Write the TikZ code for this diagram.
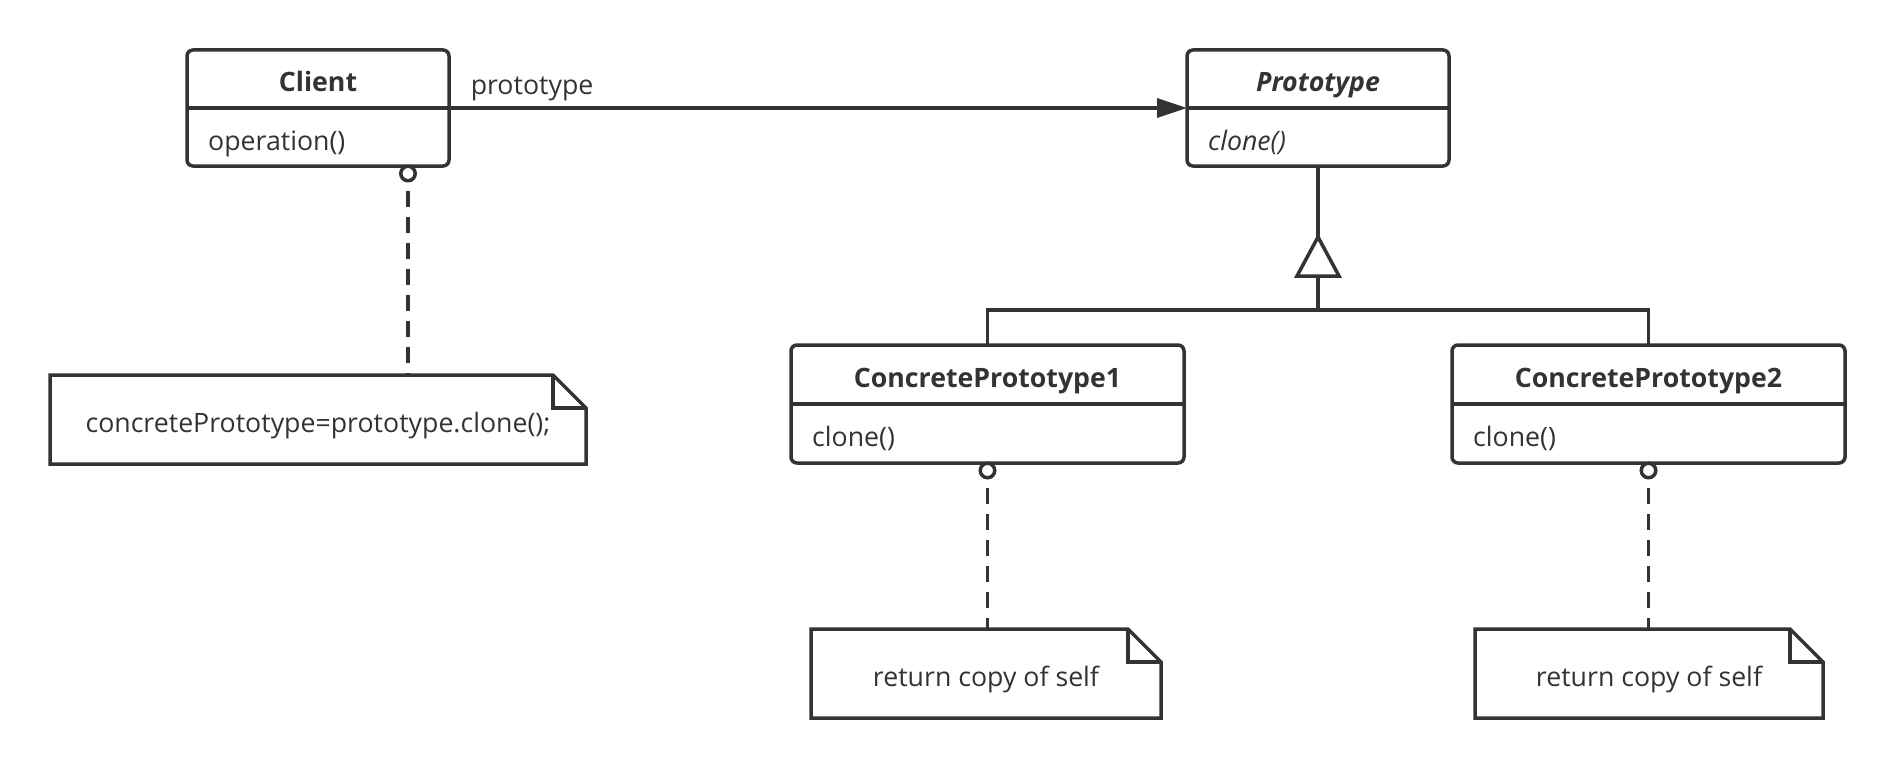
\documentclass[tikz,border=0pt]{standalone}
\usepackage{fontspec}
\setmainfont{Open Sans}
\usetikzlibrary{arrows.meta,calc}
\definecolor{ink}{HTML}{333333}
\newcommand\dfont{\fontsize{26.7}{32}\selectfont}
\newcommand\drawnote[1]{%
  \draw[link, line join=miter] (#1.north west) -- ([xshift=-33pt]#1.north east)
    -- ([yshift=-33pt]#1.north east) -- (#1.south east) -- (#1.south west) -- cycle;
  \draw[link] ([xshift=-33pt]#1.north east) |- ([yshift=-33pt]#1.north east);}
\begin{document}
\begin{tikzpicture}[x=1pt,y=-1pt,
  every node/.style={text=ink, font=\dfont},
  link/.style={draw=ink, line width=3.5pt},
  classbox/.style={draw=ink, line width=3.5pt, rounded corners=6pt, inner sep=0pt, outer sep=0pt},
  txt/.style={inner sep=0pt, text height=30pt, text depth=4pt},
  member/.style={txt, anchor=west, xshift=21pt},
  notebox/.style={txt, outer sep=0pt},
  lolli/.style={circle, draw=ink, line width=3.5pt, fill=white, inner sep=0pt, outer sep=0pt, minimum size=14.5pt},
  dashlink/.style={draw=ink, line width=3.5pt, dash pattern=on 16pt off 10pt, dash phase=16pt}
]
\useasboundingbox (0,0) rectangle (1896,768);

% classes
\node[classbox, minimum width=262pt, minimum height=116pt] (client) at (318,108) {};
\node[classbox, minimum width=262pt, minimum height=116pt] (proto) at (1318,108) {};
\node[classbox, minimum width=393pt, minimum height=118pt] (cpa) at (987.5,404) {};
\node[classbox, minimum width=393pt, minimum height=118pt] (cpb) at (1648.5,404) {};

\foreach \c in {client,proto,cpa,cpb}{\draw[link] (\c.west) -- (\c.east);}

\node[txt, font=\dfont\bfseries] (clientT) at ($(client.north)!0.5!(client.center)$) {Client};
\node[member] (clientM) at ($(client.west)!0.5!(client.south west)$) {operation()};
\node[txt, font=\dfont\bfseries\itshape] (protoT) at ($(proto.north)!0.5!(proto.center)$) {Prototype};
\node[member, font=\dfont\itshape] (protoM) at ($(proto.west)!0.5!(proto.south west)$) {clone()};
\node[txt, font=\dfont\bfseries] (cpaT) at ($(cpa.north)!0.5!(cpa.center)$) {ConcretePrototype1};
\node[member] (cpaM) at ($(cpa.west)!0.5!(cpa.south west)$) {clone()};
\node[txt, font=\dfont\bfseries] (cpbT) at ($(cpb.north)!0.5!(cpb.center)$) {ConcretePrototype2};
\node[member] (cpbM) at ($(cpb.west)!0.5!(cpb.south west)$) {clone()};

% association
\draw[link, -{Triangle[length=30pt, width=19pt]}] (client.east) --
  node[pos=0, anchor=base west, inner sep=0pt, xshift=20pt, yshift=13.5pt] (assoc) {prototype} (proto.west);

% generalization
\coordinate (gen) at (1318,310);
\draw[link] (cpa.north) |- (gen) -| (cpb.north);
\draw[link] (gen) -- (proto.south);
\draw[link, fill=white, line join=miter] ($(gen)+(0,-73)$) -- ($(gen)+(-21,-34)$) -- ($(gen)+(21,-34)$) -- cycle;

% notes
\node[notebox, minimum width=536pt, minimum height=89pt] (notea) at (318,419.5) {concretePrototype=prototype.clone();};
\node[notebox, minimum width=350pt, minimum height=89pt] (noteb) at (986,673.5) {return copy of self};
\node[notebox, minimum width=348pt, minimum height=89pt] (notec) at (1649,673.5) {return copy of self};
\drawnote{notea}
\drawnote{noteb}
\drawnote{notec}

% lollipops and dashed links
\node[lolli] (ka) at (408,173.5) {};
\node[lolli] (kb) at ([yshift=-7.5pt]cpa.south) {};
\node[lolli] (kc) at ([yshift=-7.5pt]cpb.south) {};
\draw[dashlink] (ka.south) -- (ka.south |- notea.north);
\draw[dashlink] (kb.south) -- (kb.south |- noteb.north);
\draw[dashlink] (kc.south) -- (kc.south |- notec.north);
\end{tikzpicture}
\end{document}
